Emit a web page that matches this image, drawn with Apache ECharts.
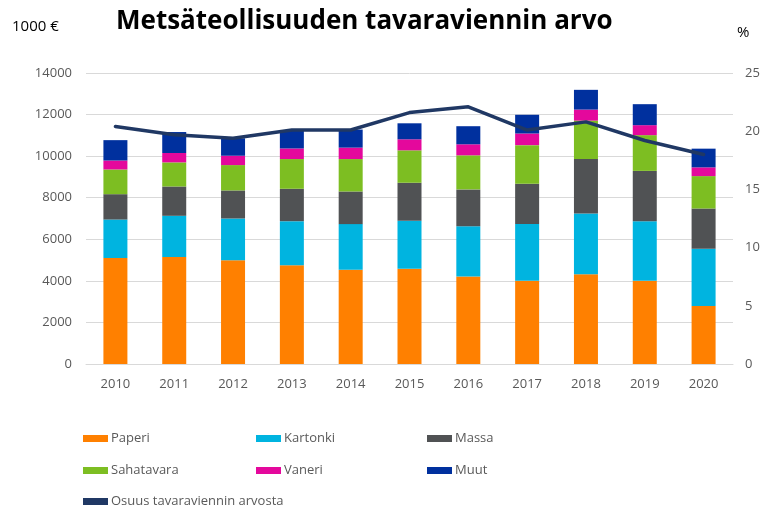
<!DOCTYPE html>
<html>
<head>
<meta charset="utf-8">
<script src="https://cdn.jsdelivr.net/npm/echarts@6/dist/echarts.min.js"></script>
<style>
  html, body { margin: 0; padding: 0; background: #fff; }
  #chart { width: 776px; height: 507px; }
</style>
</head>
<body>
<div id="chart"></div>
<script>
var years = ['2010', '2011', '2012', '2013', '2014', '2015', '2016', '2017', '2018', '2019', '2020'];

// 1000 €
var paperi     = [5100, 5150, 4990, 4750, 4540, 4580, 4210, 4000, 4320, 4000, 2790];
var kartonki   = [1850, 1980, 2010, 2120, 2190, 2310, 2420, 2730, 2920, 2870, 2760];
var massa      = [1220, 1410, 1350, 1560, 1570, 1830, 1770, 1940, 2620, 2420, 1930];
var sahatavara = [1190, 1160, 1220, 1430, 1560, 1560, 1640, 1860, 1850, 1720, 1560];
var vaneri     = [430, 450, 450, 510, 550, 530, 530, 560, 530, 480, 420];
var muut       = [980, 1010, 840, 850, 870, 770, 870, 900, 950, 1010, 900];

// %
var osuus = [20.4, 19.7, 19.4, 20.1, 20.1, 21.6, 22.1, 20.1, 20.8, 19.2, 18.0];

var txt = '#595959';
var font = '"Open Sans", sans-serif';

var chart = echarts.init(document.getElementById('chart'));

function bar(name, data, color) {
	return {
		name: name,
		type: 'bar',
		stack: 'a',
		barWidth: 24,
		data: data,
		itemStyle: { color: color }
	};
}

// one legend per item so the three columns line up like the original
function leg(name, x, y) {
	return {
		left: x,
		top: y,
		data: [name],
		itemWidth: 25,
		itemHeight: 7,
		icon: 'rect',
		selectedMode: false,
		textStyle: { color: txt, fontSize: 13, fontFamily: font, padding: [0, 0, 0, -2] }
	};
}

var option = {
	animation: false,
	title: {
		text: 'Metsäteollisuuden tavaraviennin arvo',
		left: 111,
		top: 4,
		textStyle: { fontSize: 26, fontWeight: 'bold', color: '#000', fontFamily: font }
	},
	graphic: [
		{ type: 'text', left: 12, top: 19, style: { text: '1000 €', fontSize: 15, fill: '#000', fontFamily: font } },
		{ type: 'text', left: 737, top: 25, style: { text: '%', fontSize: 15, fill: '#000', fontFamily: font } }
	],
	grid: { left: 86, right: 43, top: 73, bottom: 143 },
	legend: [
		leg('Paperi', 78, 427),
		leg('Kartonki', 251, 427),
		leg('Massa', 422, 427),
		leg('Sahatavara', 78, 459),
		leg('Vaneri', 251, 459),
		leg('Muut', 422, 459),
		leg('Osuus tavaraviennin arvosta', 78, 490)
	],
	xAxis: {
		type: 'category',
		data: years,
		axisTick: { show: false },
		axisLine: { lineStyle: { color: '#d9d9d9' } },
		axisLabel: { color: txt, fontSize: 13, fontFamily: font, margin: 14 }
	},
	yAxis: [
		{
			type: 'value',
			min: 0, max: 14000, interval: 2000,
			axisLabel: {
				color: txt, fontSize: 13, fontFamily: font, margin: 14,
				formatter: function (v) { return String(v); }
			},
			splitLine: { lineStyle: { color: '#d9d9d9' } }
		},
		{
			type: 'value',
			min: 0, max: 25, interval: 5,
			axisLabel: { color: txt, fontSize: 13, fontFamily: font, margin: 12 },
			splitLine: { show: false }
		}
	],
	series: [
		bar('Paperi', paperi, '#FF8000'),
		bar('Kartonki', kartonki, '#00B4E0'),
		bar('Massa', massa, '#505254'),
		bar('Sahatavara', sahatavara, '#7DBE22'),
		bar('Vaneri', vaneri, '#E4089C'),
		bar('Muut', muut, '#00309E'),
		{
			name: 'Osuus tavaraviennin arvosta',
			type: 'line',
			yAxisIndex: 1,
			data: osuus,
			symbol: 'none',
			lineStyle: { color: '#203864', width: 3.5, join: 'round', cap: 'round' },
			itemStyle: { color: '#203864' }
		}
	]
};

chart.setOption(option);
</script>
</body>
</html>
